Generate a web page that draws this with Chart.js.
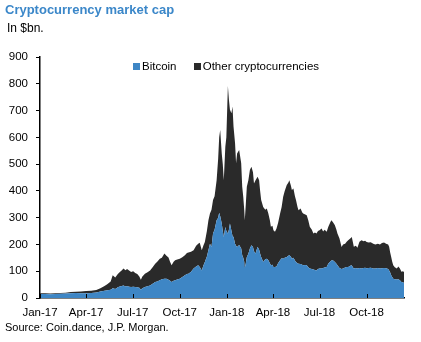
<!DOCTYPE html>
<html>
<head>
<meta charset="utf-8">
<script src="https://cdn.jsdelivr.net/npm/chart.js@4.4.1/dist/chart.umd.min.js"></script>
<style>
body { margin: 0; background: #fff; font-family: "Liberation Sans", Arial, sans-serif; color: #000; }
#wrap { position: relative; width: 421px; height: 342px; overflow: hidden; }
#canv-chart { position: absolute; left: 0; top: 0; }
.title { position: absolute; left: 5px; top: 2px; font-size: 13px; font-weight: bold; color: #3b87c9; white-space: nowrap; }
.sub { position: absolute; left: 7px; top: 21px; font-size: 12px; white-space: nowrap; }
.legend { position: absolute; left: 133px; top: 60px; font-size: 11.5px; white-space: nowrap; }
.legend span.box { display: inline-block; width: 7px; height: 7px; margin-right: 2px; }
.legend span.item { margin-right: 14px; }
.source { position: absolute; left: 5px; top: 321px; font-size: 11px; white-space: nowrap; }
</style>
</head>
<body>
<div id="wrap">
    <canvas id="canv-chart" width="421" height="342"></canvas>
    <div class="title">Cryptocurrency market cap</div>
    <div class="sub">In $bn.</div>
    <div class="legend">
        <span class="item"><span class="box" style="background:#3e86c5"></span>Bitcoin</span>
        <span class="item"><span class="box" style="background:#2a2a2a"></span>Other cryptocurrencies</span>
    </div>
    <div class="source">Source: Coin.dance, J.P. Morgan.</div>
</div>
<script>
// days since 1 Jan 2017
var days = [0,10,20,30,40,50,60,70,80,90,100,110,118,126,132,138,142,147,152,156,160,163,167,170,174,178,182,186,190,194,197,200,205,210,215,220,225,229,234,238,243,247,251,254,257,261,264,268,273,278,283,287,290,295,300,305,309,312,316,319,322,326,329,332,335,338,341,345,348,350,352,355,357,359,362,364,367,369,371,374,376,378,381,383,385,389,393,395,397,399,400,402,404,407,410,413,416,418,421,425,428,430,432,436,440,443,446,449,451,454,456,459,462,465,469,472,475,478,482,485,487,490,492,495,498,500,503,505,509,512,514,518,521,524,527,531,534,537,540,543,546,550,553,556,560,563,566,569,572,576,579,581,585,589,592,596,599,602,606,609,611,613,617,620,624,628,632,635,638,642,646,651,655,660,664,668,672,676,680,682,684,686,688,690,693,697,700,703,706,709,711];

// $bn
var bitcoin = [15,15,14,15,16,17,18,19,18,18,19,21,24,27,29,31,36,34,40,43,45,47,43,45,42,41,42,41,40,38,31,36,41,44,47,53,60,62,66,70,72,72,68,64,60,64,66,69,72,78,85,90,91,98,110,118,122,116,103,120,134,155,178,203,190,241,255,290,300,318,305,278,250,228,265,250,241,255,278,250,232,228,203,195,190,198,185,160,150,134,112,130,153,165,185,197,190,175,166,191,180,165,153,134,145,147,141,130,122,124,116,116,118,130,141,148,147,150,153,158,160,155,147,150,140,134,130,128,127,124,122,123,122,115,110,108,106,105,103,108,110,110,112,114,116,128,134,140,141,134,128,122,112,108,110,114,116,116,120,122,115,110,112,110,112,110,112,113,111,112,113,110,110,112,110,111,112,111,108,103,95,85,78,72,70,69,70,66,60,59,56];

var other = [3,3,3,3,3,3,4,4,6,8,8,9,12,18,23,31,49,43,50,54,59,63,61,63,61,56,58,52,50,42,37,44,50,52,56,62,68,73,81,80,94,86,83,71,62,71,75,75,75,74,75,78,79,75,68,77,81,90,75,75,75,95,112,113,140,125,125,150,220,282,322,262,250,212,300,350,551,485,425,440,483,412,375,308,350,355,318,255,228,194,178,220,262,275,293,293,280,253,274,262,260,235,213,206,185,187,175,160,144,146,137,131,142,150,175,192,231,250,269,272,280,265,256,259,240,232,210,200,207,196,194,189,187,175,156,147,135,140,138,142,143,150,136,141,131,137,144,150,143,138,127,119,110,82,90,89,94,100,102,106,95,81,83,78,98,106,100,101,98,95,95,93,90,91,90,94,95,92,92,88,75,68,57,50,45,41,48,44,38,41,41];

var tickDays = [0, 90, 181, 273, 365, 455, 546, 638];
var tickLabels = ['Jan-17', 'Apr-17', 'Jul-17', 'Oct-17', 'Jan-18', 'Apr-18', 'Jul-18', 'Oct-18'];

function toPoints(vals) {
    var pts = [];
    for (var i = 0; i < days.length; i++) {
        pts.push({ x: days[i], y: vals[i] });
    }
    return pts;
}

// x axis tick marks point up into the plot
var innerTicks = {
    id: 'innerTicks',
    afterDatasetsDraw: function (chart) {
        var xs = chart.scales.x;
        var ctx = chart.ctx;
        var b = chart.chartArea.bottom;
        ctx.save();
        ctx.strokeStyle = '#000';
        ctx.lineWidth = 1;
        for (var i = 0; i < xs.ticks.length; i++) {
            var px = Math.round(xs.getPixelForValue(xs.ticks[i].value)) + 0.5;
            ctx.beginPath();
            ctx.moveTo(px, b);
            ctx.lineTo(px, b - 4);
            ctx.stroke();
        }
        ctx.restore();
    }
};

Chart.defaults.font.family = '"Liberation Sans", Arial, sans-serif';
Chart.defaults.color = '#000';

var ctx = document.getElementById('canv-chart');
var myChart = new Chart(ctx, {
    type: 'line',
    data: {
        datasets: [{
            label: 'Bitcoin',
            data: toPoints(bitcoin),
            backgroundColor: '#3e86c5',
            borderWidth: 0,
            pointRadius: 0,
            fill: 'origin'
        }, {
            label: 'Other cryptocurrencies',
            data: toPoints(other),
            backgroundColor: '#2a2a2a',
            borderWidth: 0,
            pointRadius: 0,
            fill: '-1'
        }]
    },
    options: {
        responsive: false,
        animation: false,
        devicePixelRatio: 1,
        layout: { padding: { top: 57, right: 17, left: 4, bottom: 0 } },
        plugins: {
            legend: { display: false },
            tooltip: { enabled: false }
        },
        scales: {
            x: {
                type: 'linear',
                min: 0,
                max: 711,
                z: 1,
                afterBuildTicks: function (scale) {
                    scale.ticks = tickDays.map(function (d) { return { value: d }; });
                },
                afterFit: function (scale) { scale.height = 44; },
                grid: { display: false },
                border: { display: true, color: '#000', width: 1.5 },
                ticks: {
                    autoSkip: false,
                    maxRotation: 0,
                    padding: 0,
                    font: { size: 11.5 },
                    callback: function (value) {
                        var i = tickDays.indexOf(value);
                        return i >= 0 ? tickLabels[i] : '';
                    }
                }
            },
            y: {
                stacked: true,
                min: 0,
                max: 900,
                z: 1,
                afterFit: function (scale) { scale.width = 36; },
                grid: { display: true, drawOnChartArea: false, drawTicks: true, tickLength: 4, color: '#000' },
                border: { display: true, color: '#000', width: 1.5 },
                ticks: { stepSize: 100, padding: 8, font: { size: 11.5 } }
            }
        }
    },
    plugins: [innerTicks]
});
</script>
</body>
</html>
